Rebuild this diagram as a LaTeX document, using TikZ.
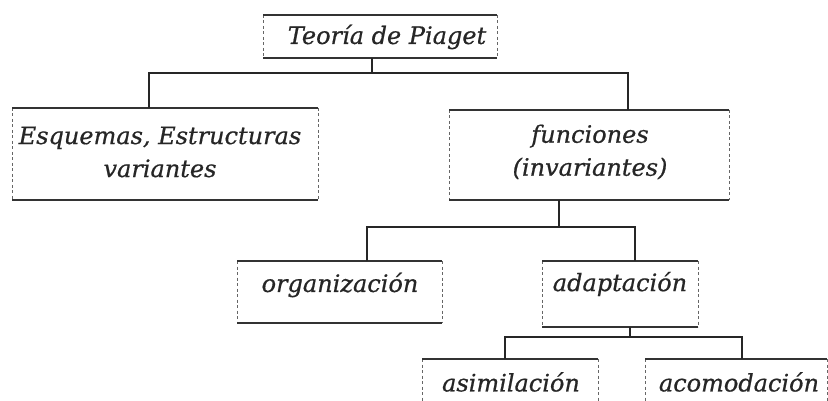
\documentclass[tikz,border=0pt]{standalone}
\usepackage{fontspec}
\setmainfont{DejaVu Serif}
\begin{document}
\begin{tikzpicture}[x=1pt,y=-1pt,
  boxst/.style={draw=none,inner sep=0pt,outer sep=0pt,anchor=north west},
  txt/.style={inner sep=0pt,font=\itshape\fontsize{24}{33}\selectfont\addfontfeature{FakeBold=0.6},text=black!85,align=center},
  hline/.style={line width=1.4pt,draw=black!80},
  vline/.style={line width=0.8pt,draw=black!60,dash pattern=on 3pt off 2.5pt},
  conn/.style={line width=1.3pt,draw=black!85}]
\clip (0,0) rectangle (828,401);
\fill[white] (0,0) rectangle (828,401);
\newcommand\boxedges[1]{%
  \draw[vline] (#1.north west) -- (#1.south west) (#1.north east) -- (#1.south east);
  \draw[hline] (#1.north west) -- (#1.north east) (#1.south west) -- (#1.south east);}
% boxes
\node[boxst,minimum width=234pt,minimum height=43pt] (T) at (263,15) {};
\node[boxst,minimum width=306pt,minimum height=92pt] (E) at (12,108) {};
\node[boxst,minimum width=280pt,minimum height=90pt] (F) at (449,110) {};
\node[boxst,minimum width=205pt,minimum height=62pt] (O) at (237,261) {};
\node[boxst,minimum width=156pt,minimum height=66pt] (A) at (542,261) {};
\node[boxst,minimum width=176pt,minimum height=70pt] (S) at (422,359) {};
\node[boxst,minimum width=182pt,minimum height=70pt] (C) at (645,359) {};
\foreach \b in {T,E,F,O,A,S,C} {\boxedges{\b}}
% texts
\node[txt] (tT) at (387,37) {Teoría de Piaget};
\node[txt] (tE) at (160,152) {Esquemas, Estructuras\\variantes};
\node[txt] (tF) at (590,152) {funciones\\(invariantes)};
\node[txt] (tO) at (340,285) {organización};
\node[txt] (tA) at (620,284) {adaptación};
\node[txt] (tS) at (511,382) {asimilación};
\node[txt] (tC) at (739,382) {acomodación};
% connectors
\coordinate (j1) at (372,73);
\coordinate (j2) at (559,227);
\coordinate (j3) at (630,337);
\draw[conn] (T.south -| j1) -- (j1);
\draw[conn] (E.north -| 149,0) -- (149,73) -- (628,73) -- (F.north -| 628,0);
\draw[conn] (F.south -| j2) -- (j2);
\draw[conn] (O.north -| 367,0) -- (367,227) -- (635,227) -- (A.north -| 635,0);
\draw[conn] (A.south -| j3) -- (j3);
\draw[conn] (S.north -| 505,0) -- (505,337) -- (742,337) -- (C.north -| 742,0);
\end{tikzpicture}
\end{document}
